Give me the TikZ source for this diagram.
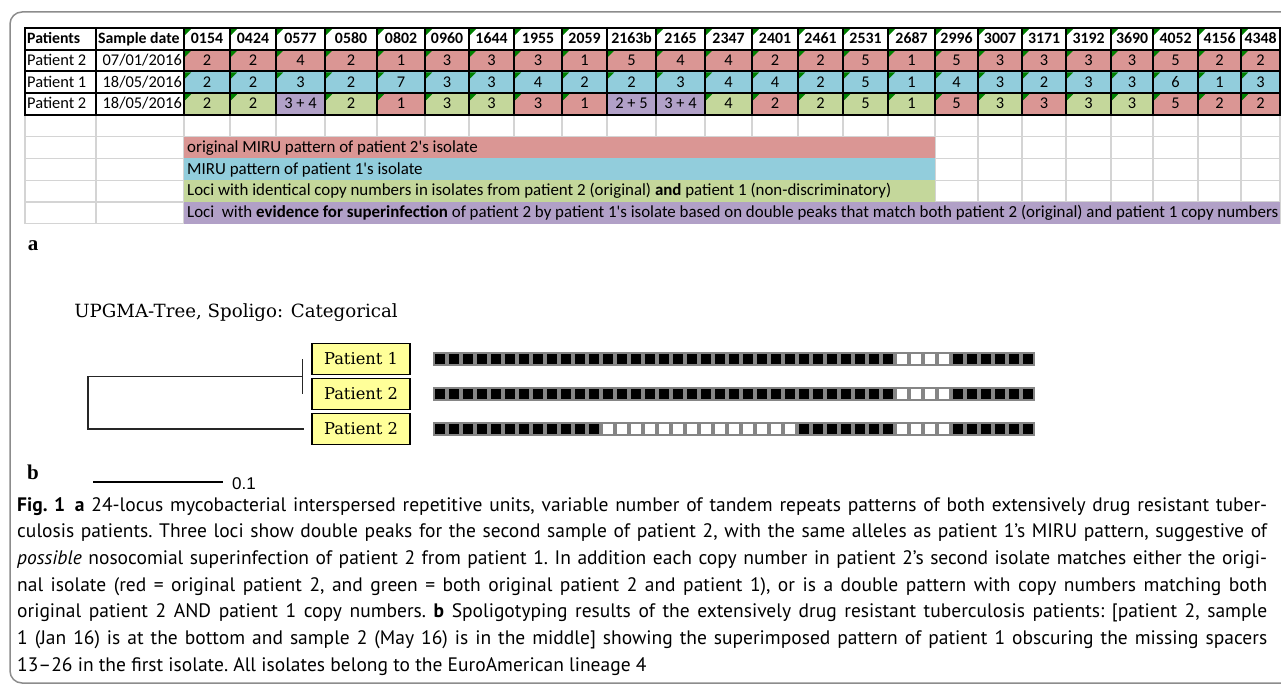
\documentclass[tikz,border=0pt]{standalone}
\usepackage{fontspec}
\usetikzlibrary{calc}
\newfontfamily\xlfont{Carlito}
\newfontfamily\trfont{DejaVu Serif}
\newfontfamily\lblfont{Liberation Serif}
\newfontfamily\capfont{PT Sans}
\newfontfamily\scfont{Liberation Sans}
\definecolor{mirured}{HTML}{DA9694}
\definecolor{mirublue}{HTML}{92CDDC}
\definecolor{mirugreen}{HTML}{C4D79B}
\definecolor{mirupurple}{HTML}{B1A0C7}
\definecolor{xlgrid}{HTML}{D4D4D4}
\definecolor{xlgreen}{HTML}{008000}
\definecolor{boxyellow}{HTML}{FFFF99}
\definecolor{framegray}{HTML}{8C8C8C}
\definecolor{spogray}{HTML}{858585}
\tikzset{
  cell/.style={font=\xlfont\fontsize{16.4}{18}\selectfont, inner sep=0pt, anchor=base},
  hdr/.style={cell, font=\xlfont\bfseries\fontsize{15.8}{18}\selectfont},
  lgd/.style={cell, font=\xlfont\fontsize{16.9}{18}\selectfont, anchor=base west},
  patbox/.style={draw=black, line width=1.4pt, fill=boxyellow, minimum width=98pt,
    minimum height=31pt, inner sep=0pt, font=\trfont\fontsize{16.3}{18}\selectfont},
  lbl/.style={font=\lblfont\bfseries\fontsize{21}{24}\selectfont, inner sep=0pt},
  tree/.style={line width=1.6pt, black!85},
}
\def\colx{25,96,184,230,276,325,377,425,469,514,562,607,656,705,752,798,843,888,935,978,1022,1066,1111,1153,1198,1241,1280}
\begin{document}
\begin{tikzpicture}[x=1pt,y=-1pt]
  \useasboundingbox (0,0) rectangle (1281,687);
  \draw[framegray, line width=1.5pt, rounded corners=12pt] (10,12) rectangle (1300,683);

  % a: MIRU table
  \foreach \x in \colx \draw[xlgrid, line width=1.3pt] (\x,115) -- (\x,223.75);
  \foreach \y in {136.75,158.5,180.25,202,223.75} \draw[xlgrid, line width=1.3pt] (25,\y) -- (1280,\y);
  \fill[mirured] (184,136.75) rectangle (935,158.5);
  \fill[mirublue] (184,158.5) rectangle (935,180.25);
  \fill[mirugreen] (184,180.25) rectangle (935,202);
  \fill[mirupurple] (184,202) rectangle (1280,223.75);
  \fill[white] (25,28) rectangle (1280,49.75);

  \foreach \xa/\xb/\hd/\ra/\rb/\rc/\cc/\th/\tc [count=\i] in {
    184/230/0154/2/2/2/mirugreen/1/1, 230/276/0424/2/2/2/mirugreen/1/1,
    276/325/0577/4/3/3 + 4/mirupurple/1/0, 325/377/0580/2/2/2/mirugreen/1/1,
    377/425/0802/1/7/1/mirured/1/1, 425/469/0960/3/3/3/mirugreen/1/1,
    469/514/1644/3/3/3/mirugreen/1/1, 514/562/1955/3/4/3/mirured/1/1,
    562/607/2059/1/2/1/mirured/1/1, 607/656/2163b/5/2/2 + 5/mirupurple/0/0,
    656/705/2165/4/3/3 + 4/mirupurple/1/0, 705/752/2347/4/4/4/mirugreen/1/1,
    752/798/2401/2/4/2/mirured/1/1, 798/843/2461/2/2/2/mirugreen/1/1,
    843/888/2531/5/5/5/mirugreen/1/1, 888/935/2687/1/1/1/mirugreen/1/1,
    935/978/2996/5/4/5/mirured/1/1, 978/1022/3007/3/3/3/mirugreen/1/1,
    1022/1066/3171/3/2/3/mirured/1/1, 1066/1111/3192/3/3/3/mirugreen/1/1,
    1111/1153/3690/3/3/3/mirugreen/1/1, 1153/1198/4052/5/6/5/mirured/1/1,
    1198/1241/4156/2/1/2/mirured/1/1, 1241/1280/4348/2/3/2/mirured/1/1}{
    \fill[mirured] (\xa,49.75) rectangle (\xb,71.5);
    \fill[mirublue] (\xa,71.5) rectangle (\xb,93.25);
    \fill[\cc] (\xa,93.25) rectangle (\xb,115);
    \ifnum\th=1 \fill[xlgreen] ({\xa+1},29) -- ++(6,0) -- ++(-6,6) -- cycle; \fi
    \fill[xlgreen] ({\xa+1},50.75) -- ++(6,0) -- ++(-6,6) -- cycle;
    \fill[xlgreen] ({\xa+1},72.5) -- ++(6,0) -- ++(-6,6) -- cycle;
    \ifnum\tc=1 \fill[xlgreen] ({\xa+1},94.25) -- ++(6,0) -- ++(-6,6) -- cycle; \fi
    \node[hdr] (h\i) at ({(\xa+\xb)/2},43.8) {\hd};
    \node[cell] (ra\i) at ({(\xa+\xb)/2},65.5) {\ra};
    \node[cell] (rb\i) at ({(\xa+\xb)/2},87.3) {\rb};
    \node[cell] (rc\i) at ({(\xa+\xb)/2},109) {\rc};
  }
  \foreach \x in \colx \draw[line width=2pt] (\x,28) -- (\x,115);
  \foreach \y in {28,49.75,71.5,93.25,115} \draw[line width=2pt] (24,\y) -- (1281,\y);

  \node[hdr, anchor=base west] (pth) at (27,43.8) {Patients};
  \node[hdr, anchor=base west] (sdh) at (98,43.8) {Sample date};
  \node[cell, anchor=base west] (pn1) at (27,65.5) {Patient 2};
  \node[cell, anchor=base east] (pd1) at (182,65.5) {07/01/2016};
  \node[cell, anchor=base west] (pn2) at (27,87.3) {Patient 1};
  \node[cell, anchor=base east] (pd2) at (182,87.3) {18/05/2016};
  \node[cell, anchor=base west] (pn3) at (27,109) {Patient 2};
  \node[cell, anchor=base east] (pd3) at (182,109) {18/05/2016};

  \node[lgd] (lgred) at (187,152.5) {original MIRU pattern of patient 2's isolate};
  \node[lgd] (lgblue) at (187,174.3) {MIRU pattern of patient 1's isolate};
  \node[lgd] (lggreen) at (187,196) {Loci with identical copy numbers in isolates from patient 2 (original) \textbf{and} patient 1 (non-discriminatory)};
  \node[lgd] (lgpurple) at (187,217.8) {Loci\ \ with \textbf{evidence for superinfection} of patient 2 by patient 1's isolate based on double peaks that match both patient 2 (original) and patient 1 copy numbers};

  \node[lbl] (lbla) at (33,246) {a};

  % b: spoligotyping tree
  \node[font=\trfont\fontsize{18.2}{20}\selectfont] (ttl) at (236,313) {UPGMA-Tree, Spoligo: Categorical};
  \node[patbox] (p1) at (361,359) {Patient 1};
  \node[patbox] (p2) at (361,394) {Patient 2};
  \node[patbox] (p3) at (361,429) {Patient 2};
  \coordinate (t1) at ([xshift=-9pt]p1.west);
  \coordinate (t2) at ([xshift=-9pt]p2.west);
  \coordinate (tj) at ($(t1)!0.5!(t2)$);
  \coordinate (tr) at (88,376.5);
  \draw[tree] (t1) -- (t2);
  \draw[tree, shorten >=7pt] (tj) -- (tr) |- (p3.west);

  \foreach \yy in {359,394,429}{
    \fill[spogray] (433,\yy-7) rectangle (1035,\yy+7);
    \foreach \s in {1,...,43} \fill[black] ({433+(\s-1)*14+2},\yy-5) rectangle ++(10,10);
    \foreach \s in {34,...,37} \fill[white] ({433+(\s-1)*14+2},\yy-5) rectangle ++(10,10);
  }
  \foreach \s in {13,...,26} \fill[white] ({433+(\s-1)*14+2},424) rectangle ++(10,10);

  \node[lbl] (lblb) at (33,472) {b};
  \coordinate (s0) at (93,482);
  \coordinate (s1) at (223,482);
  \draw[line width=1.5pt] (s0) -- (s1);
  \node[font=\scfont\fontsize{17}{19}\selectfont, inner sep=0pt, anchor=west] (sclbl) at (232,484) {0.1};

  \node[font=\capfont\fontsize{19.5}{26.7}\selectfont\frenchspacing, text width=1250pt, align=justify,
    inner sep=0pt, anchor=north west] (cap) at (17,497) {\textbf{Fig. 1}\enspace\textbf{a} 24-locus mycobacterial interspersed repetitive units, variable number of tandem repeats patterns of both extensively drug resistant tuber-\linebreak
culosis patients. Three loci show double peaks for the second sample of patient 2, with the same alleles as patient 1’s MIRU pattern, suggestive of\linebreak
\emph{possible} nosocomial superinfection of patient 2 from patient 1. In addition each copy number in patient 2’s second isolate matches either the origi-\linebreak
nal isolate (red = original patient 2, and green = both original patient 2 and patient 1), or is a double pattern with copy numbers matching both\linebreak
original patient 2 AND patient 1 copy numbers. \textbf{b} Spoligotyping results of the extensively drug resistant tuberculosis patients: [patient 2, sample\linebreak
1 (Jan 16) is at the bottom and sample 2 (May 16) is in the middle] showing the superimposed pattern of patient 1 obscuring the missing spacers\linebreak
13–26 in the first isolate. All isolates belong to the EuroAmerican lineage 4};
\end{tikzpicture}
\end{document}
